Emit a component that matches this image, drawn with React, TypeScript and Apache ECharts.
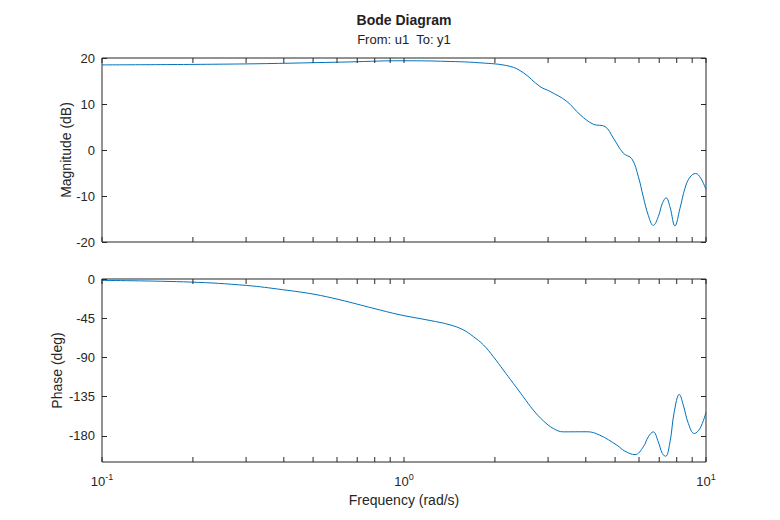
import React, { useEffect, useRef } from 'react';
import * as echarts from 'echarts';

// Magnitude response (dB)
const magFreq = [0.1, 0.286, 0.614, 0.99, 1.32, 1.786, 2.24, 2.483, 2.82, 3.042, 3.455, 3.826, 4.235, 4.63, 4.935, 5.325, 5.68, 5.97, 6.2, 6.44, 6.69, 6.95, 7.17, 7.38, 7.6, 7.89, 8.2, 8.52, 8.85, 9.24, 9.62, 10];
const magDb = [18.5, 18.7, 19.1, 19.4, 19.3, 18.95, 18.2, 16.8, 13.8, 12.75, 10.6, 7.7, 5.6, 5.1, 2.6, -0.7, -1.9, -5.8, -10.2, -14.2, -16.4, -14.5, -11.6, -10.4, -12.4, -16.5, -12.7, -8.3, -5.9, -5.1, -6.2, -8.6];

// Phase response (deg)
const phaseFreq = [0.1, 0.196, 0.301, 0.397, 0.5, 0.614, 0.789, 0.97, 1.219, 1.42, 1.572, 1.696, 1.832, 1.976, 2.132, 2.3, 2.483, 2.68, 2.893, 3.121, 3.37, 4.04, 4.45, 5.07, 5.39, 5.82, 6.2, 6.44, 6.69, 6.95, 7.17, 7.35, 7.6, 7.85, 8.16, 8.41, 8.74, 9.14, 9.55, 10];
const phaseDeg = [-1.6, -3.5, -7.4, -12.3, -17.3, -23.9, -33.5, -41.1, -47.6, -52.6, -58.4, -66, -75.6, -89.1, -104.4, -119.7, -135.1, -150.4, -162.7, -171.5, -175.4, -175.3, -179.2, -190.7, -197.6, -201.5, -192.6, -181.1, -175.4, -186.9, -200.3, -203.4, -186.9, -152.4, -132.4, -144.7, -165.7, -177.3, -171.5, -153.1];

// Tick values
const freqTicks = [0.1, 0.2, 0.3, 0.4, 0.5, 0.6, 0.7, 0.8, 0.9, 1, 2, 3, 4, 5, 6, 7, 8, 9, 10];
const phaseTicks = [0, -45, -90, -135, -180];

const FONT = 'Liberation Sans, Arial, Helvetica, sans-serif';
const AXIS = '#262626';
const LINE = '#0072BD';

// inward x ticks on top and bottom edge of a grid
function tickSeries(xAxisIndex: number, yAxisIndex: number) {
  return {
    type: 'custom' as const,
    xAxisIndex,
    yAxisIndex,
    silent: true,
    clip: false,
    z: 5,
    data: freqTicks.map((f) => [f, 0]),
    renderItem: (params: any, api: any) => {
      const x = api.coord([api.value(0), 0])[0];
      const cs = params.coordSys;
      const style = { stroke: AXIS, lineWidth: 1 };
      return {
        type: 'group',
        children: [
          { type: 'line', shape: { x1: x, y1: cs.y, x2: x, y2: cs.y + 5 }, style },
          { type: 'line', shape: { x1: x, y1: cs.y + cs.height, x2: x, y2: cs.y + cs.height - 5 }, style },
        ],
      };
    },
  };
}

export default function App() {
  const chartRef = useRef<HTMLDivElement>(null);

  useEffect(() => {
    if (!chartRef.current) return;
    const chart = echarts.init(chartRef.current, null, { renderer: 'svg' });

    const gridBase = {
      left: 102,
      width: 604,
      show: true,
      borderColor: AXIS,
      borderWidth: 1,
      backgroundColor: '#fff',
    };

    const xBase = {
      type: 'log' as const,
      logBase: 10,
      min: 0.1,
      max: 10,
      axisLine: { show: false },
      axisTick: { show: false },
      splitLine: { show: false },
      minorSplitLine: { show: false },
    };

    const yText = { color: AXIS, fontFamily: FONT, fontSize: 13 };
    const nameText = { color: AXIS, fontFamily: FONT, fontSize: 14 };

    const option = {
      animation: false,
      backgroundColor: '#fff',
      textStyle: { fontFamily: FONT },
      title: [
        {
          text: 'Bode Diagram',
          left: 404,
          top: 13,
          padding: 0,
          textAlign: 'center',
          textStyle: { fontSize: 14, fontWeight: 'bold', color: '#222', fontFamily: FONT },
        },
        {
          text: 'From: u1  To: y1',
          left: 404,
          top: 33,
          padding: 0,
          textAlign: 'center',
          textStyle: { fontSize: 13, fontWeight: 'normal', color: '#222', fontFamily: FONT },
        },
      ],
      grid: [
        { ...gridBase, top: 58, height: 184 },
        { ...gridBase, top: 279, height: 183 },
      ],
      xAxis: [
        { ...xBase, gridIndex: 0, axisLabel: { show: false } },
        {
          ...xBase,
          gridIndex: 1,
          name: 'Frequency (rad/s)',
          nameLocation: 'middle',
          nameGap: 31,
          nameMoveOverlap: false,
          nameTextStyle: nameText,
          axisLabel: {
            margin: 10,
            formatter: (v: number) => `{b|10}{s|${Math.round(Math.log10(v))}}`,
            rich: {
              b: { fontSize: 13, lineHeight: 16, verticalAlign: 'bottom', color: AXIS, fontFamily: FONT },
              s: { fontSize: 9, lineHeight: 10, verticalAlign: 'top', color: AXIS, fontFamily: FONT },
            },
          },
        },
      ],
      yAxis: [
        {
          gridIndex: 0,
          type: 'value',
          min: -20,
          max: 20,
          interval: 10,
          name: 'Magnitude (dB)',
          nameLocation: 'middle',
          nameGap: 29,
          nameMoveOverlap: false,
          nameTextStyle: nameText,
          axisLine: { show: false },
          axisTick: { show: true, inside: true, length: 5, lineStyle: { color: AXIS } },
          axisLabel: { ...yText, margin: 7 },
          splitLine: { show: false },
        },
        {
          gridIndex: 0,
          type: 'value',
          position: 'right',
          min: -20,
          max: 20,
          interval: 10,
          axisLine: { show: false },
          axisTick: { show: true, inside: true, length: 5, lineStyle: { color: AXIS } },
          axisLabel: { show: false },
          splitLine: { show: false },
        },
        {
          gridIndex: 1,
          type: 'value',
          min: -210,
          max: 0,
          name: 'Phase (deg)',
          nameLocation: 'middle',
          nameGap: 38,
          nameMoveOverlap: false,
          nameTextStyle: nameText,
          axisLine: { show: false },
          axisTick: { show: true, inside: true, length: 5, lineStyle: { color: AXIS }, customValues: phaseTicks },
          axisLabel: { ...yText, margin: 7, customValues: phaseTicks },
          splitLine: { show: false },
        },
        {
          gridIndex: 1,
          type: 'value',
          position: 'right',
          min: -210,
          max: 0,
          axisLine: { show: false },
          axisTick: { show: true, inside: true, length: 5, lineStyle: { color: AXIS }, customValues: phaseTicks },
          axisLabel: { show: false },
          splitLine: { show: false },
        },
      ],
      series: [
        {
          type: 'line',
          xAxisIndex: 0,
          yAxisIndex: 0,
          data: magFreq.map((f, i) => [f, magDb[i]]),
          showSymbol: false,
          smooth: 0.4,
          lineStyle: { color: LINE, width: 1 },
          itemStyle: { color: LINE },
        },
        {
          type: 'line',
          xAxisIndex: 1,
          yAxisIndex: 2,
          data: phaseFreq.map((f, i) => [f, phaseDeg[i]]),
          showSymbol: false,
          smooth: 0.4,
          lineStyle: { color: LINE, width: 1 },
          itemStyle: { color: LINE },
        },
        tickSeries(0, 0),
        tickSeries(1, 2),
      ],
    };

    chart.setOption(option as any);

    return () => {
      chart.dispose();
    };
  }, []);

  return (
    <div
      ref={chartRef}
      style={{ position: 'absolute', left: 0, top: 0, width: 780, height: 520 }}
    />
  );
}
